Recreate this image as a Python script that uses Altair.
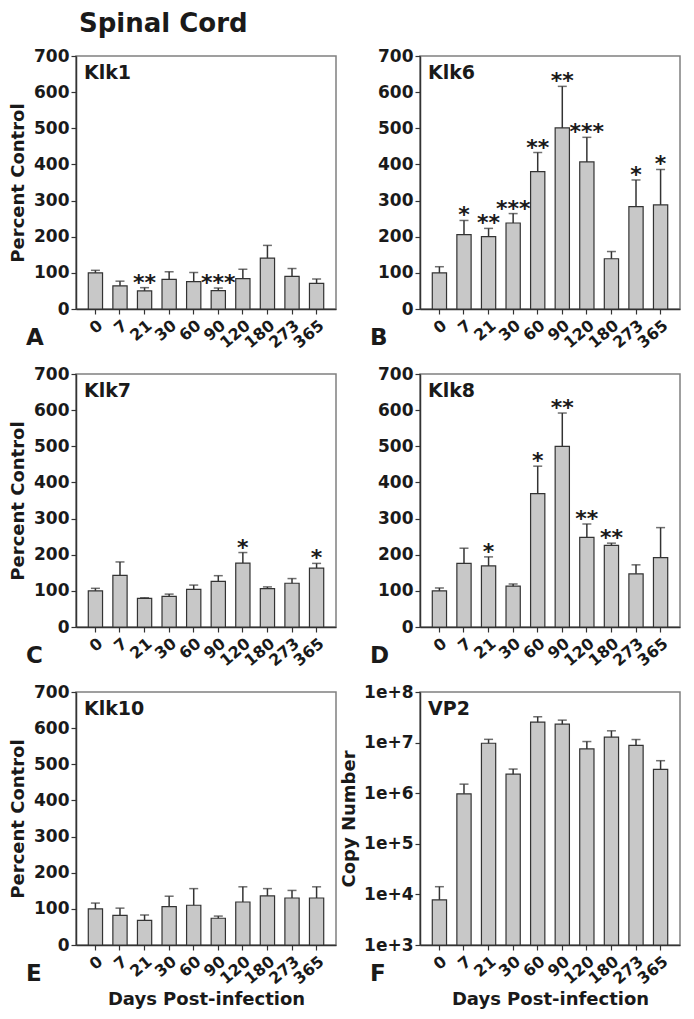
import altair as alt
import pandas as pd

FONT = "DejaVu Sans"
W, H = 260, 253

days = ["0", "7", "21", "30", "60", "90", "120", "180", "273", "365"]

klk1_mean = [100, 64, 50, 82, 76, 51, 84, 141, 90, 71]
klk1_upper = [107, 77, 59, 103, 101, 58, 110, 176, 112, 83]
klk1_sig = ["", "", "**", "", "", "***", "", "", "", ""]

klk6_mean = [100, 206, 200, 238, 380, 501, 407, 139, 283, 288]
klk6_upper = [117, 245, 223, 264, 433, 616, 475, 159, 357, 386]
klk6_sig = ["", "*", "**", "***", "**", "**", "***", "", "*", "*"]

klk7_mean = [100, 143, 79, 85, 104, 126, 177, 106, 121, 163]
klk7_upper = [107, 180, 81, 91, 116, 142, 206, 111, 134, 176]
klk7_sig = ["", "", "", "", "", "", "*", "", "", "*"]

klk8_mean = [100, 176, 169, 113, 369, 500, 248, 226, 147, 192]
klk8_upper = [108, 218, 194, 119, 445, 592, 285, 232, 172, 275]
klk8_sig = ["", "", "*", "", "*", "**", "**", "**", "", ""]

klk10_mean = [100, 82, 68, 106, 110, 74, 119, 136, 130, 130]
klk10_upper = [116, 102, 83, 135, 156, 80, 161, 156, 151, 161]
klk10_sig = [""] * 10

vp2_mean = [7.8e3, 9.7e5, 9.7e6, 2.38e6, 2.53e7, 2.31e7, 7.5e6, 1.28e7, 8.85e6, 2.95e6]
vp2_upper = [1.42e4, 1.51e6, 1.16e7, 3.0e6, 3.24e7, 2.78e7, 1.05e7, 1.71e7, 1.15e7, 4.39e6]
vp2_sig = [""] * 10

linear_ticks = [0, 100, 200, 300, 400, 500, 600, 700]
log_ticks = [1e3, 1e4, 1e5, 1e6, 1e7, 1e8]

fig_title = "Spinal Cord"
x_title = "Days Post-infection"


def panel(mean, upper, sig, name, letter, ytitle, xtitle, log=False, top=None):
    df = pd.DataFrame({"day": days, "mean": mean, "upper": upper, "sig": sig})
    xenc_axis = alt.Axis(title=xtitle, labelAngle=-40, labelAlign="right",
                         labelBaseline="top", labelPadding=3, titlePadding=4)
    xsc = alt.Scale(paddingInner=0.42, paddingOuter=0.5)
    if log:
        ysc = alt.Scale(type="log", domain=[1e3, 1e8], nice=False)
        yax = alt.Axis(title=ytitle, values=log_ticks,
                       labelExpr="'1e+' + round(log(datum.value)/LN10)",
                       titlePadding=5)
    else:
        ysc = alt.Scale(domain=[0, 700], nice=False)
        yax = alt.Axis(title=ytitle, values=linear_ticks, titlePadding=6)

    def X():
        return alt.X("day:N", sort=days, scale=xsc, axis=xenc_axis)

    def Y(field):
        return alt.Y(field, type="quantitative", scale=ysc, axis=yax)

    base = alt.Chart(df)
    if log:
        bars = base.mark_bar(fill="#c8c8c8", stroke="#333333", strokeWidth=1.2).encode(
            x=X(), y=Y("mean"), y2=alt.datum(1e3))
    else:
        bars = base.mark_bar(fill="#c8c8c8", stroke="#333333", strokeWidth=1.2).encode(
            x=X(), y=Y("mean"))
    rule = base.mark_rule(color="#333333", strokeWidth=1.5).encode(
        x=X(), y=Y("mean"), y2="upper:Q")
    cap = base.mark_tick(color="#333333", thickness=1.5, size=9).encode(
        x=X(), y=Y("upper"))
    stars = base.transform_filter("datum.sig != ''").mark_text(
        font=FONT, fontWeight="bold", fontSize=22, baseline="alphabetic", color="#1a1a1a",
        dy=2
    ).encode(x=X(), y=Y("upper"), text="sig:N")

    lab = alt.Chart(pd.DataFrame({"t": [name]})).mark_text(
        font=FONT, fontWeight="bold", fontSize=19, align="left", baseline="alphabetic",
        color="#1a1a1a").encode(x=alt.value(8), y=alt.value(23), text="t:N")
    let = alt.Chart(pd.DataFrame({"t": [letter]})).mark_text(
        font=FONT, fontWeight="bold", fontSize=23, align="left", baseline="alphabetic",
        color="#1a1a1a").encode(x=alt.value(-50), y=alt.value(H + 36), text="t:N")
    layers = [bars, rule, cap, stars, lab, let]
    if top:
        ttl = alt.Chart(pd.DataFrame({"t": [top]})).mark_text(
            font=FONT, fontWeight="bold", fontSize=26, align="left", baseline="alphabetic",
            color="#1a1a1a").encode(x=alt.value(3), y=alt.value(-24), text="t:N")
        layers.append(ttl)
    return alt.layer(*layers).properties(width=W, height=H)


pA = panel(klk1_mean, klk1_upper, klk1_sig, "Klk1", "A", "Percent Control", None, top=fig_title)
pB = panel(klk6_mean, klk6_upper, klk6_sig, "Klk6", "B", None, None)
pC = panel(klk7_mean, klk7_upper, klk7_sig, "Klk7", "C", "Percent Control", None)
pD = panel(klk8_mean, klk8_upper, klk8_sig, "Klk8", "D", None, None)
pE = panel(klk10_mean, klk10_upper, klk10_sig, "Klk10", "E", "Percent Control", x_title)
pF = panel(vp2_mean, vp2_upper, vp2_sig, "VP2", "F", "Copy Number", x_title, log=True)

chart = alt.concat(
    pA, pB, pC, pD, pE, pF, columns=2,
    spacing={"row": 65, "column": 84}, bounds="flush"
).configure_view(
    stroke="#808080", strokeWidth=1.5
).configure_axis(
    domainColor="#333333", domainWidth=1.5, tickColor="#333333", tickSize=5,
    tickWidth=1.2, labelFont=FONT, labelFontWeight="bold", labelFontSize=17,
    labelColor="#1a1a1a", titleFont=FONT, titleFontWeight="bold", titleFontSize=18,
    titleColor="#1a1a1a", grid=False, labelOverlap=False
).configure_axisX(labelFontSize=16).properties(padding={"left": 0, "top": 2, "right": 0, "bottom": 0})

chart.save("out.html", embed_options={"renderer": "svg", "actions": False})
